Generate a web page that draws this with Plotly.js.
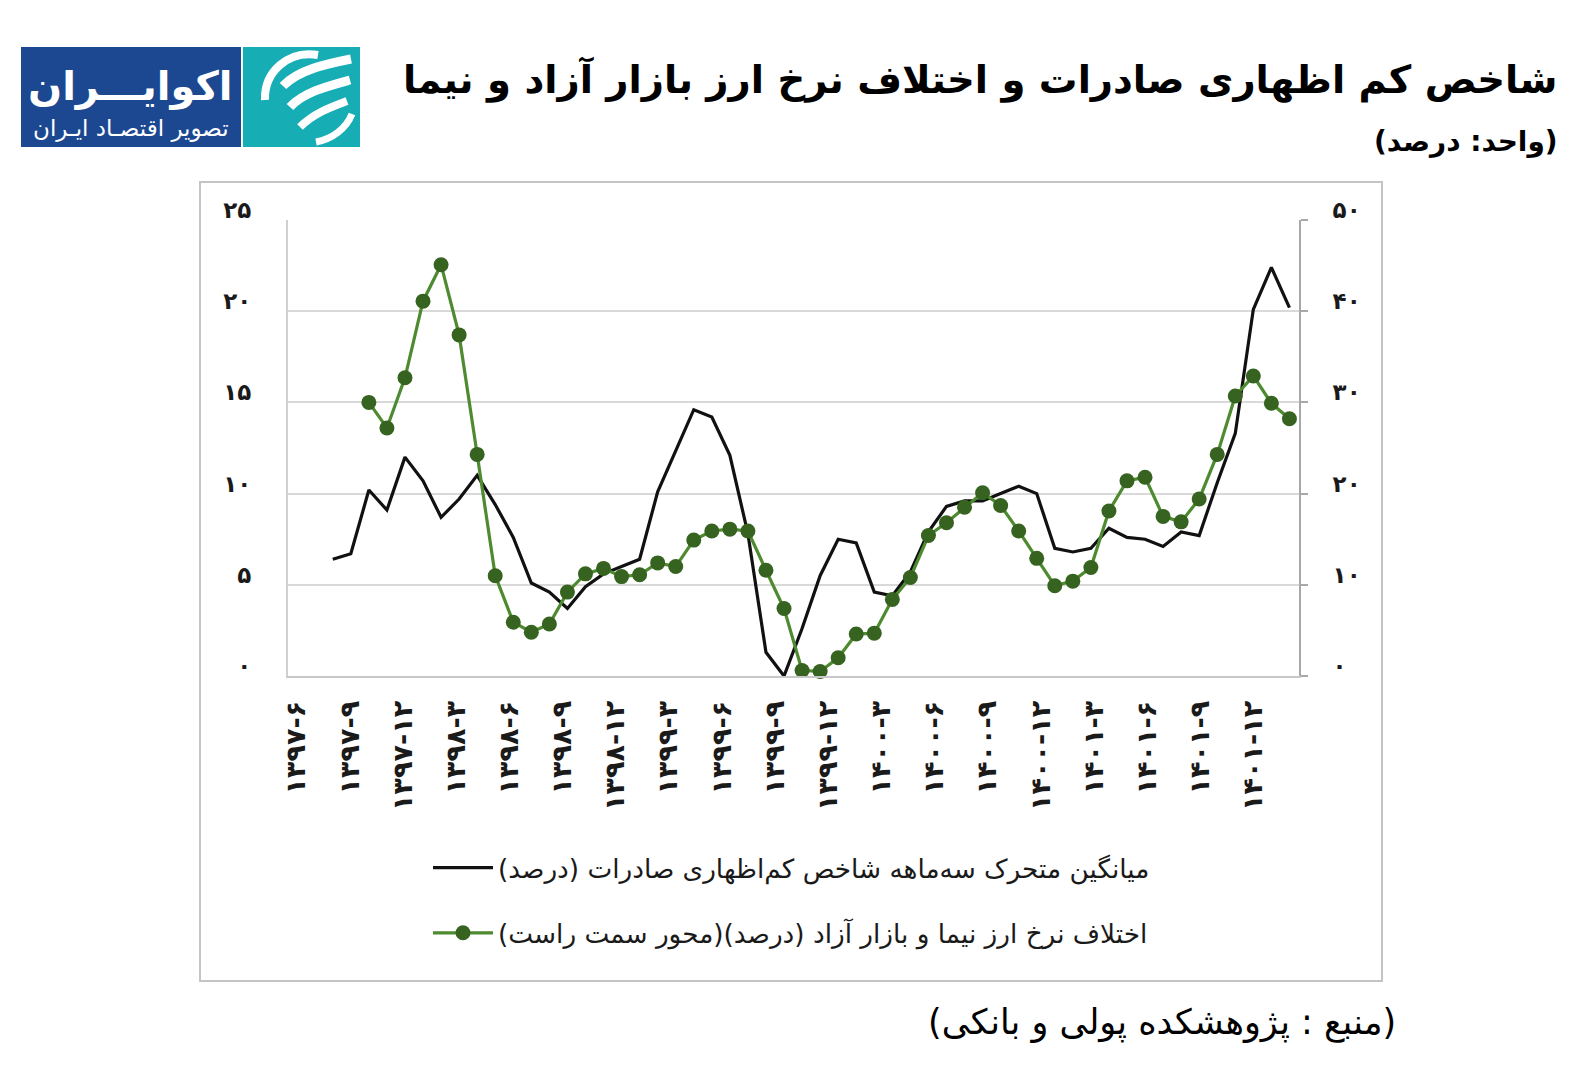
<!DOCTYPE html>
<html>
<head>
<meta charset="utf-8">
<script src="https://cdn.plot.ly/plotly-3.0.1.min.js"></script>
<style>
html,body{margin:0;padding:0;background:#fff;}
#chart{width:1584px;height:1080px;}
</style>
</head>
<body>
<div id="chart"></div>
<script>
// ---------------- DATA ----------------
// monthly observations, index 0 = 1397-6 (Persian calendar)
const underInvoicing = [null, null, 6.4, 6.7, 10.2, 9.1, 12.0, 10.7, 8.7, 9.7,
  11.0, 9.4, 7.6, 5.1, 4.6, 3.7, 4.9, 5.6, 6.0, 6.4,
  10.1, 12.3, 14.6, 14.2, 12.1, 7.8, 1.3, 0.0, 2.6, 5.5,
  7.5, 7.3, 4.6, 4.4, 5.7, 7.9, 9.3, 9.6, 9.6, 10.0,
  10.4, 10.0, 7.0, 6.8, 7.0, 8.1, 7.6, 7.5, 7.1, 7.9,
  7.7, 10.6, 13.3, 20.1, 22.4, 20.2];
const rateGap = [null, null, null, null, 30.0, 27.2, 32.7, 41.1, 45.1, 37.4,
  24.3, 11.0, 5.9, 4.8, 5.7, 9.2, 11.2, 11.8, 10.9, 11.1,
  12.4, 12.0, 14.9, 15.9, 16.1, 15.9, 11.6, 7.4, 0.6, 0.5,
  2.0, 4.6, 4.7, 8.4, 10.8, 15.4, 16.8, 18.5, 20.1, 18.7,
  15.9, 12.9, 9.9, 10.4, 11.9, 18.1, 21.4, 21.8, 17.5, 16.9,
  19.4, 24.3, 30.7, 32.9, 29.9, 28.2];
const xTickLabels = ["۱۳۹۷-۶","۱۳۹۷-۹","۱۳۹۷-۱۲","۱۳۹۸-۳","۱۳۹۸-۶","۱۳۹۸-۹","۱۳۹۸-۱۲",
  "۱۳۹۹-۳","۱۳۹۹-۶","۱۳۹۹-۹","۱۳۹۹-۱۲","۱۴۰۰-۳","۱۴۰۰-۶","۱۴۰۰-۹","۱۴۰۰-۱۲",
  "۱۴۰۱-۳","۱۴۰۱-۶","۱۴۰۱-۹","۱۴۰۱-۱۲"];
const leftTickVals = [0, 5, 10, 15, 20, 25];
const leftTickText = ["۰","۵","۱۰","۱۵","۲۰","۲۵"];
const rightTickVals = [0, 10, 20, 30, 40, 50];
const rightTickText = ["۰","۱۰","۲۰","۳۰","۴۰","۵۰"];
const seriesNames = [
  "میانگین متحرک سه\u200Cماهه شاخص کم\u200Cاظهاری صادرات (درصد)",
  "اختلاف نرخ ارز نیما و بازار آزاد (درصد)(محور سمت راست)"
];
const titleText = "شاخص کم اظهاری صادرات و اختلاف نرخ ارز بازار آزاد و نیما";
const subtitleText = "(واحد: درصد)";
const sourceText = "(منبع : پژوهشکده پولی و بانکی)";
const logoText = "اکوایـــران";
const logoSub = "تصویر اقتصـاد ایـران";

// ---------------- LAYOUT HELPERS ----------------
const RLM = "\u200F";
const rtl = s => RLM + s + RLM;
const L = 288, R = 1299, T = 220, B = 676;
const px = x => (x - L) / (R - L);
const py = y => (B - y) / (B - T);
const FA = "DejaVu Sans, Noto Sans, sans-serif";

// build a paper-space SVG path from pixel-space commands
function pathPx(cmds) {
  return cmds.map(c => {
    const op = c[0];
    const pts = [];
    for (let k = 1; k < c.length; k += 2) pts.push(px(c[k]).toFixed(5) + "," + py(c[k + 1]).toFixed(5));
    return op + pts.join(" ");
  }).join(" ");
}
function iconStroke(cmds, w) {
  return {type: "path", xref: "paper", yref: "paper", path: pathPx(cmds),
    line: {color: "#ffffff", width: w}, fillcolor: "rgba(0,0,0,0)", layer: "above"};
}

const xIdx = underInvoicing.map((_, i) => i);
// labels every quarter, spread over the observed span
const xTickVals = xTickLabels.map((_, k) => k * 53 / 18);

const traces = [
  {
    x: xIdx, y: underInvoicing, type: "scatter", mode: "lines",
    name: rtl(seriesNames[0]), legendgroup: "a",
    line: {color: "#111111", width: 3.2}, yaxis: "y", connectgaps: false,
    cliponaxis: false
  },
  {
    x: xIdx, y: rateGap, type: "scatter", mode: "lines+markers",
    name: rtl(seriesNames[1]), legendgroup: "b",
    line: {color: "#4e8a2f", width: 3.2},
    marker: {color: "#36631f", size: 15, line: {width: 0}},
    yaxis: "y2", connectgaps: false, cliponaxis: false
  }
];

const layout = {
  width: 1584, height: 1080,
  margin: {l: L, r: 1584 - R, t: T, b: 1080 - B, pad: 0},
  paper_bgcolor: "#ffffff", plot_bgcolor: "#ffffff",
  font: {family: FA, color: "#1a1a1a"},
  showlegend: true,
  legend: {
    x: px(428), y: py(844), xanchor: "left", yanchor: "top",
    orientation: "v", traceorder: "grouped", tracegroupgap: 28,
    itemwidth: 60, bgcolor: "rgba(0,0,0,0)",
    font: {family: FA, size: 26.3, color: "#1a1a1a"}
  },
  xaxis: {
    range: [-0.48, 55.53], showgrid: false, zeroline: false,
    showline: true, linecolor: "#c8c8c8", linewidth: 2,
    tickmode: "array", tickvals: xTickVals, ticktext: xTickLabels,
    tickangle: -90, ticks: "", ticklabelstandoff: 12,
    tickfont: {family: FA, size: 27, weight: "bold", color: "#1a1a1a"},
    fixedrange: true
  },
  yaxis: {
    range: [0, 25], tickmode: "array", tickvals: leftTickVals, ticktext: leftTickText,
    showgrid: true, gridcolor: "#d9d9d9", gridwidth: 2, zeroline: false,
    showline: true, linecolor: "#d0d0d0", linewidth: 2, ticks: "",
    ticklabelstandoff: 30, ticklabelshift: -10,
    tickfont: {family: FA, size: 23, weight: "bold", color: "#1a1a1a"},
    fixedrange: true
  },
  yaxis2: {
    range: [0, 50], overlaying: "y", side: "right",
    tickmode: "array", tickvals: rightTickVals, ticktext: rightTickText,
    showgrid: false, zeroline: false,
    showline: true, linecolor: "#a8a8a8", linewidth: 2,
    ticks: "outside", ticklen: 7, tickcolor: "#a8a8a8", tickwidth: 2,
    ticklabelstandoff: 20, ticklabelshift: -10,
    tickfont: {family: FA, size: 23, weight: "bold", color: "#1a1a1a"},
    fixedrange: true
  },
  shapes: [
    // outer chart frame
    {type: "rect", xref: "paper", yref: "paper", x0: px(200), x1: px(1382), y0: py(981), y1: py(182),
      line: {color: "#c4c4c4", width: 2}, fillcolor: "rgba(0,0,0,0)", layer: "below"},
    // logo boxes
    {type: "rect", xref: "paper", yref: "paper", x0: px(21), x1: px(241), y0: py(147), y1: py(47),
      line: {width: 0}, fillcolor: "#1c4791", layer: "above"},
    {type: "rect", xref: "paper", yref: "paper", x0: px(243), x1: px(360), y0: py(147), y1: py(47),
      line: {width: 0}, fillcolor: "#17adb4", layer: "above"},
    // logo emblem (white swooshes)
    iconStroke([["M", 318, 55], ["C", 288, 50, 264, 72, 265, 100, 266, 118, 276, 132, 290, 139]], 8),
    iconStroke([["M", 351, 59], ["C", 326, 64, 298, 70, 283, 86, 277, 93, 284, 99, 295, 95]], 9),
    iconStroke([["M", 350, 80], ["C", 328, 86, 304, 92, 290, 107, 284, 114, 291, 120, 302, 116]], 9),
    iconStroke([["M", 347, 101], ["C", 331, 107, 314, 113, 300, 127, 295, 133, 302, 138, 312, 134]], 8),
    iconStroke([["M", 352, 114], ["C", 346, 129, 332, 139, 316, 142]], 7)
  ],
  annotations: [
    {text: rtl(titleText), xref: "paper", yref: "paper", x: px(1560), y: py(80),
      xanchor: "right", yanchor: "middle", showarrow: false,
      font: {family: FA, size: 38.6, weight: "bold", color: "#000000"}},
    {text: rtl(subtitleText), xref: "paper", yref: "paper", x: px(1560), y: py(141),
      xanchor: "right", yanchor: "middle", showarrow: false,
      font: {family: FA, size: 28, weight: "bold", color: "#000000"}},
    {text: rtl(sourceText), xref: "paper", yref: "paper", x: px(1398), y: py(1022),
      xanchor: "right", yanchor: "middle", showarrow: false,
      font: {family: FA, size: 35, color: "#000000"}},
    {text: rtl(logoText), xref: "paper", yref: "paper", x: px(130), y: py(86),
      xanchor: "center", yanchor: "middle", showarrow: false,
      font: {family: FA, size: 40, weight: "bold", color: "#ffffff"}},
    {text: rtl(logoSub), xref: "paper", yref: "paper", x: px(131), y: py(128),
      xanchor: "center", yanchor: "middle", showarrow: false,
      font: {family: FA, size: 23, color: "#ffffff"}}
  ]
};

Plotly.newPlot("chart", traces, layout, {displayModeBar: false, staticPlot: true});
</script>
</body>
</html>
